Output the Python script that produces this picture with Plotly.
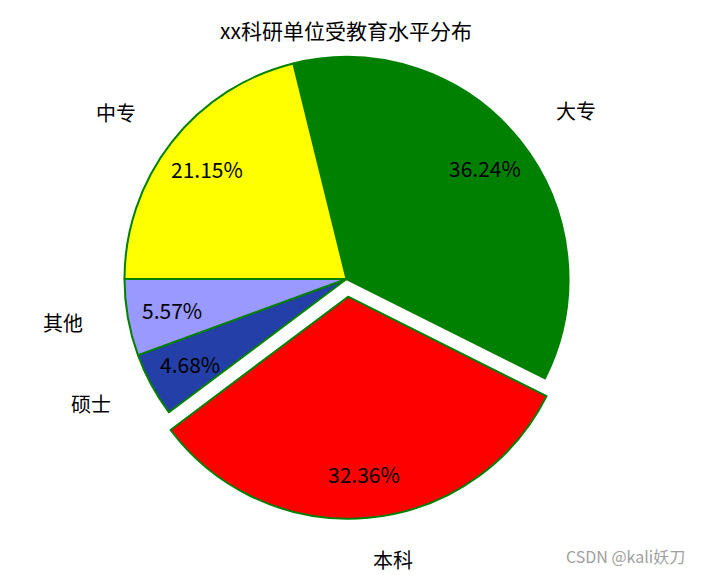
import math
import plotly.graph_objects as go

# ---- data ----
labels = ["大专", "本科", "硕士", "其他", "中专"]
values = [36.24, 32.36, 4.68, 5.57, 21.15]
colors = ["#008000", "#FF0000", "#2440A8", "#9999FF", "#FFFF00"]
pulls = [0, 0.08, 0, 0, 0]
title_text = "xx科研单位受教育水平分布"
watermark = "CSDN @kali妖刀"

# ---- layout geometry (pixels) ----
W, H = 701, 575
CX, CY = 346.5, 279.0       # pie centre
R = 222.0                   # pie radius
LABEL_DIST = 1.2
PCT_DIST = 0.8
LABEL_DY = -2.5             # small baseline correction for labels
FONT = "Noto Sans CJK SC"

# rotation so that the 其他/中专 boundary lies on the left horizontal
total = sum(values)
rotation = 270.0 - 360.0 * sum(values[:4]) / total

max_pull = max(pulls)
box = 2 * R * (1 + max_pull)
dom_x = [(CX - box / 2) / W, (CX + box / 2) / W]
dom_y = [1 - (CY + box / 2) / H, 1 - (CY - box / 2) / H]

fig = go.Figure(go.Pie(
    labels=labels,
    values=values,
    sort=False,
    direction="clockwise",
    rotation=rotation,
    pull=pulls,
    marker=dict(colors=colors, line=dict(color="#008000", width=2)),
    textinfo="none",
    hoverinfo="label+percent",
    domain=dict(x=dom_x, y=dom_y),
    showlegend=False,
))

annotations = []
cum = 0.0
for lab, v, p in zip(labels, values, pulls):
    mid = math.radians(rotation + 360.0 * (cum + v / 2) / total)
    cum += v
    sx, sy = math.sin(mid), -math.cos(mid)
    ox, oy = CX + p * R * sx, CY + p * R * sy
    # category label
    lx, ly = ox + LABEL_DIST * R * sx, oy + LABEL_DIST * R * sy + LABEL_DY
    annotations.append(dict(
        x=lx / W, y=1 - ly / H, xref="paper", yref="paper",
        text=lab, showarrow=False, borderpad=0,
        xanchor="left" if sx > 0 else "right", yanchor="middle",
        font=dict(family=FONT, size=20, color="#000000"),
    ))
    # percentage label
    px, py = ox + PCT_DIST * R * sx, oy + PCT_DIST * R * sy
    annotations.append(dict(
        x=px / W, y=1 - py / H, xref="paper", yref="paper",
        text="%.2f%%" % (100.0 * v / total), showarrow=False,
        xanchor="center", yanchor="middle",
        font=dict(family=FONT, size=21, color="#000000"),
    ))

annotations.append(dict(
    x=687 / W, y=1 - 556 / H, xref="paper", yref="paper",
    text=watermark, showarrow=False, xanchor="right", yanchor="middle",
    font=dict(family=FONT, size=16, color="#A0A0A0"),
))

fig.update_layout(
    width=W, height=H,
    margin=dict(l=0, r=0, t=0, b=0),
    paper_bgcolor="white", plot_bgcolor="white",
    title=dict(text=title_text, x=346 / W, xanchor="center",
               y=1 - 32 / H, yanchor="middle", yref="paper",
               font=dict(family=FONT, size=21, color="#000000")),
    annotations=annotations,
)

fig.write_html(
    "out.html",
    config={"displayModeBar": False},
    post_script="document.body.style.margin='0';document.body.style.overflow='hidden';",
)
